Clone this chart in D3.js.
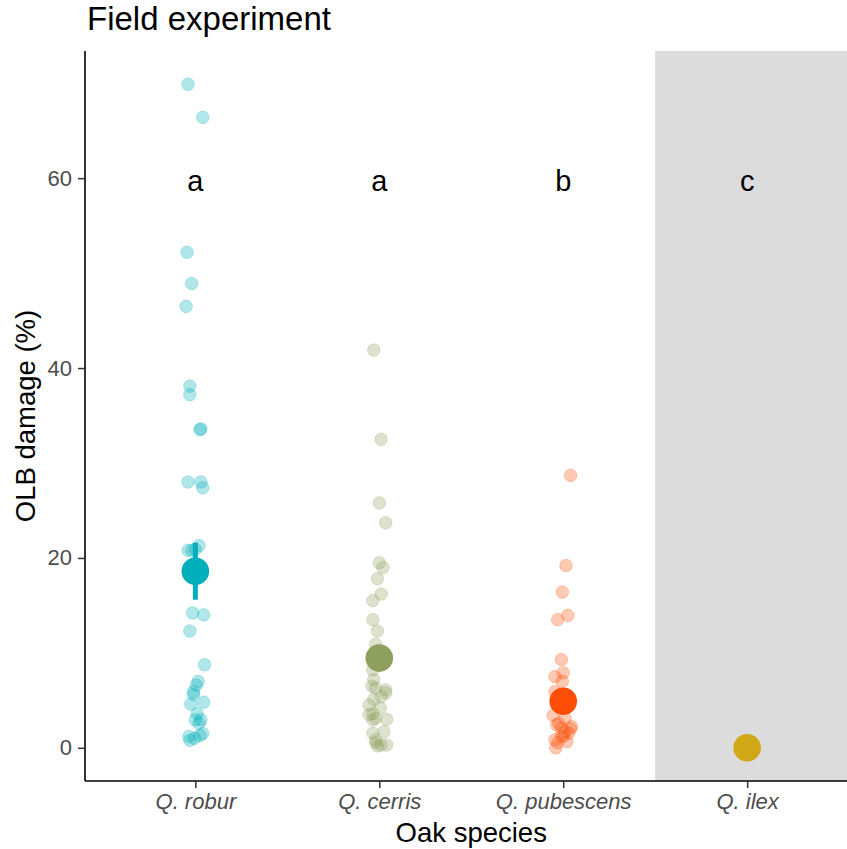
<!DOCTYPE html>
<html>
<head>
<meta charset="utf-8">
<script src="https://cdn.jsdelivr.net/npm/d3@7"></script>
<style>
  body { margin: 0; background: #fff; }
  svg { display: block; font-family: "Liberation Sans", Arial, sans-serif; }
</style>
</head>
<body>
<svg id="field"></svg>
<script>
// species on the x axis
const species = ["Q. robur", "Q. cerris", "Q. pubescens", "Q. ilex"];
const colors = ["#00AFBB", "#8FA05E", "#FC4E07", "#D0A716"];
const letters = ["a", "a", "b", "c"];
const yTicks = [0, 20, 40, 60];

// raw observations per species (% damage), jitter in category units
const roburValues = [69.9, 66.4, 52.2, 48.9, 46.5, 38.1, 37.2, 33.5, 33.6, 28.0, 28.0, 27.4,
    21.3, 20.8, 20.8, 20.9, 14.2, 14.0, 12.3, 8.75, 7.0, 6.6, 5.9, 5.6, 4.8, 4.6, 3.6,
    2.95, 2.95, 2.6, 1.2, 0.8, 1.0, 1.3, 1.5];
const roburJitter = [-0.04, 0.04, -0.045, -0.02, -0.05, -0.03, -0.03, 0.025, 0.03, -0.04, 0.03, 0.04,
    0.02, -0.04, -0.02, 0.0, -0.015, 0.045, -0.03, 0.05, 0.015, 0.005, -0.01, -0.01, 0.045, -0.025, 0.01,
    0.0, 0.03, 0.02, -0.035, -0.03, -0.005, 0.025, 0.04];

const cerrisValues = [41.9, 32.5, 25.8, 23.7, 19.5, 19.0, 17.8, 16.2, 15.5, 13.5, 12.3, 10.9,
    10.2, 8.2, 7.2, 6.5, 6.1, 5.8, 6.3, 5.4, 5.1, 4.5, 4.2, 3.6, 3.5, 3.0, 2.95, 3.1,
    1.7, 1.55, 0.85, 0.2, 0.3, 0.3, 0.55];
const cerrisJitter = [-0.03, 0.01, 0.0, 0.035, 0.0, 0.02, -0.01, 0.01, -0.035, -0.035, -0.01, -0.02,
    -0.01, -0.035, -0.03, -0.04, 0.035, 0.035, -0.02, 0.01, -0.03, -0.055, 0.005, -0.035, -0.055, 0.04, -0.035, -0.02,
    0.025, -0.035, -0.02, -0.01, 0.01, 0.04, -0.02];

const pubescensValues = [28.7, 19.2, 16.4, 13.95, 13.5, 9.3, 7.9, 7.5, 7.0, 5.9, 4.5, 3.4, 3.1,
    2.4, 2.25, 2.1, 1.55, 1.7, 2.0, 0.85, 0.55, 0.0, 0.65, 1.25, 1.2, 2.6];
const pubescensJitter = [0.04, 0.015, -0.005, 0.025, -0.03, -0.01, 0.0, -0.045, -0.005, -0.045, -0.015, -0.055, 0.01,
    -0.035, 0.045, -0.01, 0.03, 0.01, 0.04, -0.045, -0.03, -0.04, 0.02, -0.01, 0.0, -0.025];

const ilexValues = [0, 0, 0, 0, 0, 0];
const ilexJitter = [-0.03, -0.015, 0.0, 0.01, 0.02, 0.03];

// mean and standard error per species
const means = [18.6, 9.45, 4.9, 0];
const errors = [3.0, 1.2, 0.8, 0];

const width = 847;
const height = 849;
const marginLeft = 85;
const marginTop = 51;
const panelBottom = 781;
const panelRight = 857.5;

const allValues = [roburValues, cerrisValues, pubescensValues, ilexValues];
const allJitter = [roburJitter, cerrisJitter, pubescensJitter, ilexJitter];

// flatten into one table of points
const points = [];
allValues.forEach((vals, i) => {
    vals.forEach((v, j) => points.push({ species: species[i], value: v, jitter: allJitter[i][j], color: colors[i] }));
});

// ggplot style 5% expansion of the y range
const yMax = d3.max(points, d => d.value);
const yScale = d3.scaleLinear()
    .domain([-yMax * 0.05, yMax * 1.05])
    .range([panelBottom, marginTop]);

// discrete axis, panel continues past the right edge of the picture
const xScale = d3.scalePoint()
    .domain(species)
    .range([marginLeft, panelRight])
    .padding(0.6);
const step = xScale.step();

const svg = d3.select("#field")
    .attr("width", width)
    .attr("height", height);

// grey band behind Q. ilex, running off the right edge
svg.append("rect")
    .attr("x", xScale("Q. ilex") - step / 2)
    .attr("y", marginTop)
    .attr("width", panelRight - (xScale("Q. ilex") - step / 2))
    .attr("height", panelBottom - marginTop)
    .attr("fill", "#DCDCDC");

// jittered raw points
svg.append("g")
    .selectAll("circle")
    .data(points)
    .enter()
    .append("circle")
        .attr("cx", d => xScale(d.species) + d.jitter * step)
        .attr("cy", d => yScale(d.value))
        .attr("r", 6.3)
        .attr("fill", d => d.color)
        .attr("fill-opacity", 0.3)
        .attr("stroke", d => d.color)
        .attr("stroke-opacity", 0.25)
        .attr("stroke-width", 1);

// error bars
svg.append("g")
    .selectAll("line")
    .data(species)
    .enter()
    .append("line")
        .attr("x1", d => xScale(d))
        .attr("x2", d => xScale(d))
        .attr("y1", (d, i) => yScale(means[i] - errors[i]))
        .attr("y2", (d, i) => yScale(means[i] + errors[i]))
        .attr("stroke", (d, i) => colors[i])
        .attr("stroke-width", 5);

// means
svg.append("g")
    .selectAll("circle")
    .data(species)
    .enter()
    .append("circle")
        .attr("cx", d => xScale(d))
        .attr("cy", (d, i) => yScale(means[i]))
        .attr("r", 13.8)
        .attr("fill", (d, i) => colors[i]);

// significance letters
svg.append("g")
    .selectAll("text")
    .data(letters)
    .enter()
    .append("text")
        .attr("x", (d, i) => xScale(species[i]))
        .attr("y", yScale(60))
        .attr("dy", "0.45em")
        .style("text-anchor", "middle")
        .style("font-size", "29px")
        .attr("fill", "#000")
        .text(d => d);

// axes
const xAxis = d3.axisBottom(xScale)
    .tickSize(7)
    .tickSizeOuter(0)
    .tickPadding(5);

const yAxis = d3.axisLeft(yScale)
    .tickValues(yTicks)
    .tickSize(7)
    .tickSizeOuter(0)
    .tickPadding(6);

const gx = svg.append("g")
    .attr("transform", `translate(0, ${panelBottom})`)
    .call(xAxis);

const gy = svg.append("g")
    .attr("transform", `translate(${marginLeft}, 0)`)
    .call(yAxis);

// stretch the axis lines over the full panel
gx.select(".domain").attr("d", `M${marginLeft},0H${width + 20}`);
gy.select(".domain").attr("d", `M0,${marginTop}V${panelBottom}`);

[gx, gy].forEach(g => {
    g.select(".domain").attr("stroke", "#000").attr("stroke-width", 1.6);
    g.selectAll(".tick line").attr("stroke", "#333").attr("stroke-width", 1.5);
    g.selectAll(".tick text")
        .attr("fill", "#4D4D4D")
        .style("font-size", "22px")
        .style("font-family", "'Liberation Sans', Arial, sans-serif");
});
gx.selectAll(".tick text").style("font-style", "italic");

// x-axis label
svg.append("text")
    .attr("x", (marginLeft + panelRight) / 2)
    .attr("y", 842)
    .style("text-anchor", "middle")
    .style("font-size", "27.5px")
    .text("Oak species");

// y-axis label
svg.append("text")
    .attr("transform", "rotate(-90)")
    .attr("x", -(marginTop + panelBottom) / 2)
    .attr("y", 35)
    .style("text-anchor", "middle")
    .style("font-size", "27.5px")
    .text("OLB damage (%)");

// title
svg.append("text")
    .attr("x", 87)
    .attr("y", 30)
    .style("font-size", "33px")
    .text("Field experiment");
</script>
</body>
</html>
